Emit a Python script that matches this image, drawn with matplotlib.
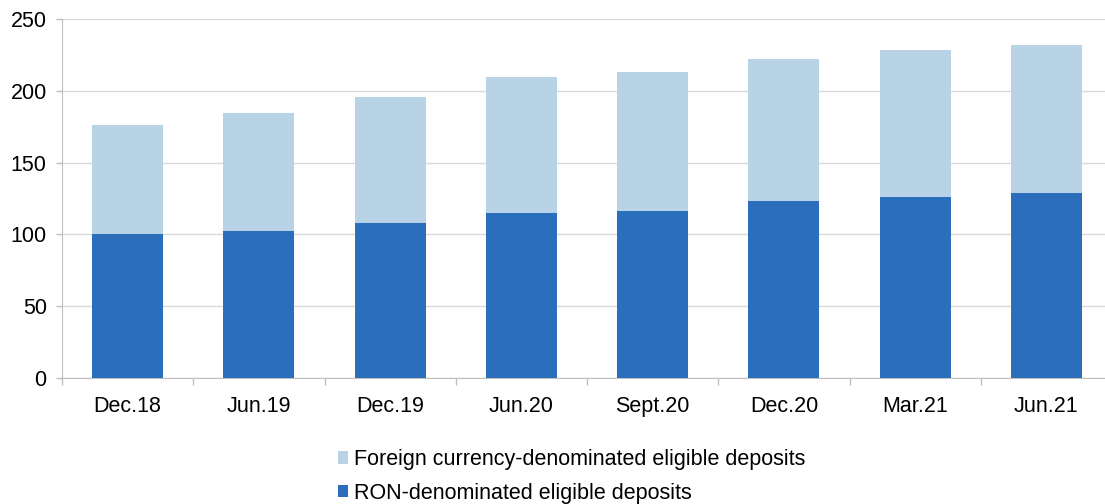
import numpy as np
import matplotlib.pyplot as plt
from matplotlib.ticker import MultipleLocator, FixedLocator

plt.rcParams['font.family'] = ['Liberation Sans', 'DejaVu Sans']

categories = ['Dec.18', 'Jun.19', 'Dec.19', 'Jun.20', 'Sept.20', 'Dec.20', 'Mar.21', 'Jun.21']
ron = [100, 102.6, 108, 115, 116.3, 123.3, 126.3, 128.6]
foreign = [76, 82, 87.7, 94.6, 96.7, 98.7, 102, 103.3]

ron_color = '#2B6EBB'
foreign_color = '#B8D3E5'
grey = '#BFBFBF'
fs = 15.5

fig = plt.figure(figsize=(11.05, 5.04), dpi=100)
ax = fig.add_axes([62 / 1105, 126 / 504, 1050 / 1105, 359 / 504])

x = np.arange(len(categories))
ax.bar(x, ron, width=0.54, color=ron_color, label='RON-denominated eligible deposits', zorder=3)
ax.bar(x, foreign, width=0.54, bottom=ron, color=foreign_color,
       label='Foreign currency-denominated eligible deposits', zorder=3)

ax.set_xlim(-0.5, len(categories) - 0.5)
ax.set_ylim(0, 250)
ax.yaxis.set_major_locator(MultipleLocator(50))
ax.grid(axis='y', color='#D9D9D9', linewidth=1, zorder=0)

ax.set_xticks(x)
ax.set_xticklabels(categories)
ax.xaxis.set_minor_locator(FixedLocator(np.arange(-0.5, len(categories), 1)))
ax.tick_params(axis='x', which='major', length=0, pad=13, labelsize=fs)
ax.tick_params(axis='x', which='minor', length=5, color=grey, width=1)
ax.tick_params(axis='y', length=4, color=grey, width=1, pad=7, labelsize=fs)

for side in ['top', 'right']:
    ax.spines[side].set_visible(False)
ax.spines['left'].set_color(grey)
ax.spines['bottom'].set_color(grey)

handles, labels = ax.get_legend_handles_labels()
fig.legend(handles[::-1], labels[::-1], loc='center', bbox_to_anchor=(0.517, 0.0545),
           frameon=False, fontsize=fs, handlelength=0.5, handleheight=0.5,
           handletextpad=0.25, labelspacing=0.6, borderpad=0)

fig.savefig('out.png', dpi=100)
